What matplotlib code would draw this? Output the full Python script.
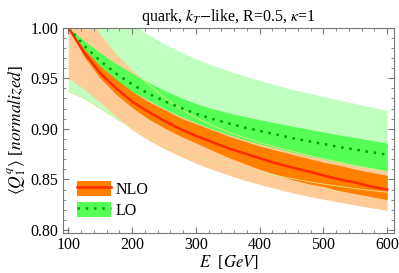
import matplotlib
matplotlib.use('Agg')
import matplotlib.pyplot as plt
from matplotlib.patches import Patch
from matplotlib.lines import Line2D
from matplotlib.ticker import MultipleLocator, FormatStrFormatter

plt.rcParams['font.family'] = ['Liberation Serif', 'DejaVu Serif']
plt.rcParams['mathtext.fontset'] = 'stix'

energy = [100, 125, 150, 175, 200, 225, 250, 275, 300, 325, 350,
          375, 400, 425, 450, 475, 500, 525, 550, 575, 600]

# NLO: central curve, inner band, outer band
nlo = [1.000, 0.975, 0.955, 0.940, 0.927, 0.917, 0.908, 0.900, 0.893, 0.887, 0.881,
       0.876, 0.871, 0.866, 0.862, 0.858, 0.854, 0.850, 0.847, 0.843, 0.840]
nlo_hi = [1.000, 0.979, 0.962, 0.949, 0.937, 0.927, 0.919, 0.911, 0.905, 0.899, 0.893,
          0.888, 0.883, 0.879, 0.875, 0.871, 0.867, 0.864, 0.860, 0.857, 0.854]
nlo_lo = [1.000, 0.971, 0.950, 0.934, 0.921, 0.910, 0.901, 0.893, 0.886, 0.879, 0.872,
          0.866, 0.860, 0.855, 0.850, 0.846, 0.843, 0.839, 0.836, 0.833, 0.830]
nlo_out_hi = [1.045, 1.016, 0.993, 0.974, 0.958, 0.944, 0.931, 0.920, 0.911, 0.9035, 0.897,
              0.8915, 0.8865, 0.882, 0.878, 0.874, 0.8705, 0.867, 0.8637, 0.8607, 0.858]
nlo_out_lo = [0.950, 0.939, 0.926, 0.912, 0.899, 0.889, 0.8805, 0.873, 0.866, 0.860, 0.8545,
              0.8495, 0.845, 0.841, 0.837, 0.8335, 0.8305, 0.8275, 0.8248, 0.822, 0.8195]

# LO: central curve, inner band, outer band
lo = [1.000, 0.982, 0.967, 0.9545, 0.944, 0.935, 0.9275, 0.921, 0.915, 0.910, 0.9055,
      0.9015, 0.898, 0.8945, 0.891, 0.888, 0.885, 0.882, 0.8795, 0.877, 0.8745]
lo_hi = [1.000, 0.987, 0.975, 0.9645, 0.955, 0.946, 0.938, 0.931, 0.925, 0.920, 0.916,
         0.9123, 0.909, 0.9058, 0.9027, 0.8997, 0.8968, 0.894, 0.8913, 0.8886, 0.886]
lo_lo = [1.000, 0.977, 0.961, 0.9475, 0.937, 0.9285, 0.920, 0.9125, 0.906, 0.900, 0.8945,
         0.8895, 0.885, 0.881, 0.877, 0.8735, 0.870, 0.8668, 0.8638, 0.861, 0.8583]
lo_out_hi = [1.075, 1.055, 1.037, 1.020, 1.004, 0.993, 0.984, 0.976, 0.969, 0.963, 0.9575,
             0.9525, 0.948, 0.9433, 0.939, 0.9355, 0.932, 0.9285, 0.925, 0.9215, 0.918]
lo_out_lo = [0.937, 0.930, 0.920, 0.910, 0.901, 0.892, 0.884, 0.878, 0.8725, 0.868, 0.864,
             0.8605, 0.857, 0.854, 0.851, 0.848, 0.8455, 0.8432, 0.841, 0.839, 0.8375]

pale_green = '#c0ffc0'
green = '#55ff55'
peach = '#ffcc99'
orange = '#ff8000'
red = '#ff2a00'
dark_green = '#009a00'
edge = '#e2e68e'

fig = plt.figure(figsize=(3.99, 2.73), dpi=100)
ax = fig.add_axes([0.157, 0.146, 0.831, 0.753])

ax.fill_between(energy, lo_out_lo, lo_out_hi, color=pale_green, lw=0)
ax.fill_between(energy, nlo_out_lo, nlo_out_hi, color=peach, lw=0)
ax.fill_between(energy, lo_lo, lo_hi, color=green, lw=0)
ax.fill_between(energy, nlo_lo, nlo_hi, color=orange, lw=0)
# faint band edges that show through
ax.plot(energy, nlo_out_hi, color=edge, lw=0.6)
ax.plot(energy, lo_out_lo, color=edge, lw=0.6)

ax.plot(energy, nlo, color=red, lw=1.8)
ax.plot(energy, lo, color=dark_green, lw=1.8, linestyle=(0, (1, 2.3)))

ax.set_xlim(91, 611)
ax.set_ylim(0.797, 1.0)
ax.xaxis.set_major_locator(MultipleLocator(100))
ax.xaxis.set_minor_locator(MultipleLocator(20))
ax.yaxis.set_major_locator(MultipleLocator(0.05))
ax.yaxis.set_minor_locator(MultipleLocator(0.01))
ax.yaxis.set_major_formatter(FormatStrFormatter('%.2f'))
ax.tick_params(which='both', direction='in', top=True, right=True, color='#777777', labelsize=11.5)
ax.tick_params(which='major', length=4.5, width=0.8, pad=3)
ax.tick_params(which='minor', length=2.5, width=0.6)
for s in ax.spines.values():
    s.set_color('#777777')
    s.set_linewidth(0.8)

ax.set_title(r'quark, $k_T$$-$like, R=0.5, $\kappa$=1', fontsize=11.5, pad=5)
ax.set_xlabel(r'$E$  [$GeV$]', fontsize=12, labelpad=0)
ax.set_ylabel(r'$\langle Q_1^q\rangle$ [$normalized$]', fontsize=12.5, labelpad=2)

handles = [(Patch(color=orange, lw=0), Line2D([], [], color=red, lw=1.8)),
           (Patch(color=green, lw=0), Line2D([], [], color=dark_green, lw=1.8, linestyle=(0, (1, 2.3))))]
ax.legend(handles, ['NLO', 'LO'], loc='lower left', bbox_to_anchor=(0.0, 0.0),
          frameon=False, fontsize=11.5, handlelength=2.1, handleheight=1.05,
          labelspacing=0.25, handletextpad=0.3, borderpad=0.4)

fig.savefig('out.png', dpi=100)
